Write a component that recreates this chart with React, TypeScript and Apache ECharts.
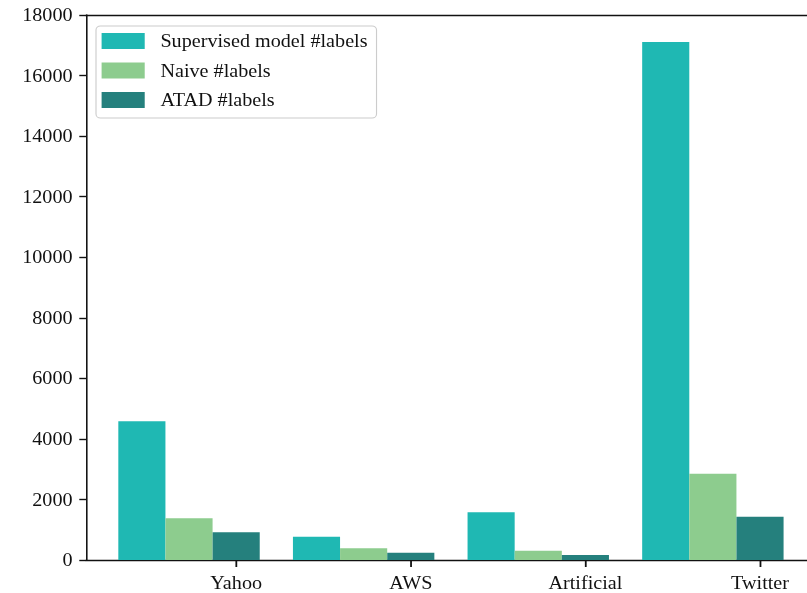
import React, { useEffect, useRef } from "react";
import * as echarts from "echarts";

const categories = ["Yahoo", "AWS", "Artificial", "Twitter"];
const seriesNames = ["Supervised model #labels", "Naive #labels", "ATAD #labels"];
const supervisedLabels = [4580, 770, 1575, 17110];
const naiveLabels = [1375, 385, 305, 2850];
const atadLabels = [915, 240, 165, 1430];
const seriesColors = ["#1fb8b3", "#8dcc8e", "#25807d"];

const STRETCH = 1.12;
const W = 807 / STRETCH;
const H = 593;
const BAR_STEP = 0.27;
const X_MIN = -0.32;
const X_MAX = 3.812;
const FONT = "'Liberation Serif', 'Times New Roman', serif";

export default function App() {
  const ref = useRef<HTMLDivElement>(null);
  useEffect(() => {
    if (!ref.current) return;
    const chart = echarts.init(ref.current, undefined, { renderer: "svg" });
    const allValues = [supervisedLabels, naiveLabels, atadLabels];
    const tickPositions = categories.map((_, i) => i + 2 * BAR_STEP);
    const axisColor = "#111";
    chart.setOption({
      animation: false,
      grid: {
        left: 86 / STRETCH,
        right: 0,
        top: 15,
        bottom: 33,
      },
      legend: {
        data: seriesNames,
        orient: "vertical",
        left: 96 / STRETCH,
        top: 26,
        icon: "rect",
        itemWidth: 38.5,
        itemHeight: 16,
        itemGap: 11.5,
        padding: [6, 8, 9, 5],
        backgroundColor: "rgba(255,255,255,0.8)",
        borderColor: "#cccccc",
        borderWidth: 1,
        borderRadius: 4,
        textStyle: {
          fontFamily: FONT,
          fontSize: 18,
          lineHeight: 18,
          color: axisColor,
          padding: [0, 0, 0, 9],
        },
      },
      xAxis: [
        {
          type: "value",
          min: X_MIN,
          max: X_MAX,
          axisLine: { show: true, onZero: false, lineStyle: { color: axisColor, width: 1.4 } },
          axisTick: {
            show: true,
            inside: false,
            length: 7,
            customValues: tickPositions,
            lineStyle: { color: axisColor, width: 1.6 },
          },
          axisLabel: {
            customValues: tickPositions,
            formatter: (v: number) => categories[Math.round(v - 2 * BAR_STEP)] ?? "",
            fontFamily: FONT,
            fontSize: 18,
            color: axisColor,
            margin: 14,
          },
          splitLine: { show: false },
        },
        {
          type: "value",
          position: "top",
          min: X_MIN,
          max: X_MAX,
          axisLine: { show: true, onZero: false, lineStyle: { color: axisColor, width: 1.4 } },
          axisTick: { show: false },
          axisLabel: { show: false },
          splitLine: { show: false },
        },
      ],
      yAxis: {
        type: "value",
        min: 0,
        max: 18000,
        interval: 2000,
        axisLine: { show: true, onZero: false, lineStyle: { color: axisColor, width: 1.4 } },
        axisTick: { show: true, inside: false, length: 6, lineStyle: { color: axisColor, width: 1.4 } },
        axisLabel: {
          fontFamily: FONT,
          fontSize: 18,
          color: axisColor,
          margin: 12,
          formatter: (v: number) => String(v),
        },
        splitLine: { show: false },
      },
      series: seriesNames.map((name, s) => ({
        name,
        type: "bar",
        xAxisIndex: 0,
        barWidth: (BAR_STEP * 174.5) / STRETCH,
        barGap: "-100%",
        itemStyle: { color: seriesColors[s] },
        data: allValues[s].map((v, i) => [i + s * BAR_STEP, v]),
      })),
    });
    return () => chart.dispose();
  }, []);
  return (
    <div
      ref={ref}
      style={{
        position: "fixed",
        left: 0,
        top: 0,
        width: W,
        height: H,
        transform: `scaleX(${STRETCH})`,
        transformOrigin: "0 0",
      }}
    />
  );
}
